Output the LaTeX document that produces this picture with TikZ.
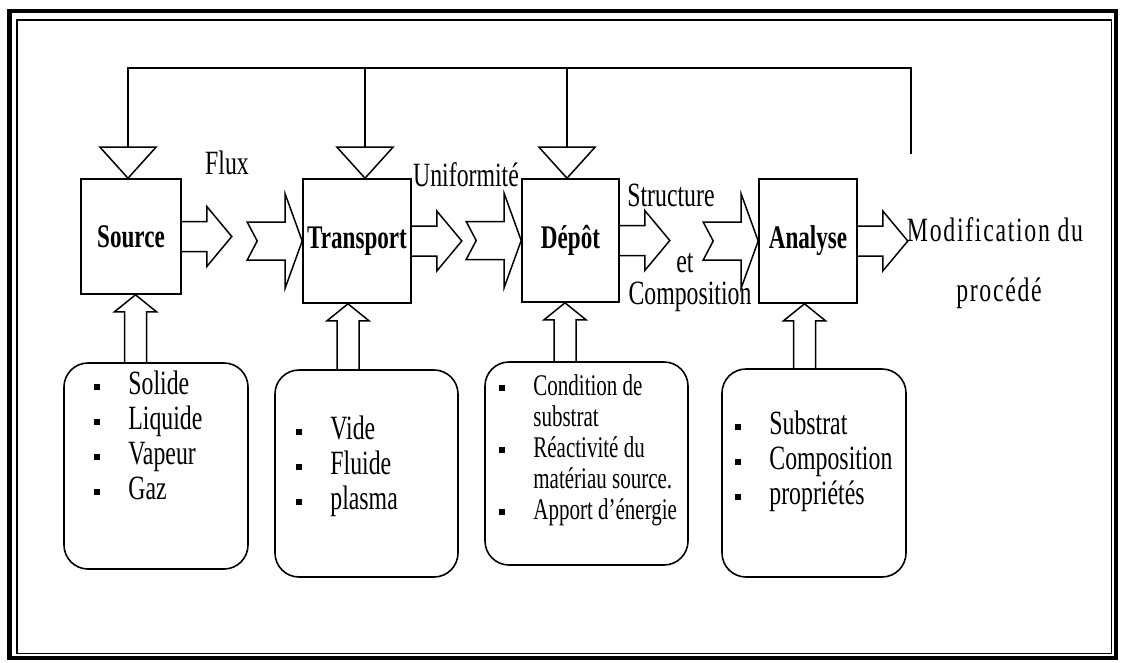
\documentclass[tikz,border=0pt]{standalone}
\usepackage{fontspec}
\setmainfont{Liberation Serif}[FakeStretch=0.7]
\usetikzlibrary{calc,positioning}

\newcommand{\blt}{\makebox[34pt][l]{\rule[4pt]{6pt}{6pt}}\strut}
\newcommand{\cnt}{\hspace*{34pt}\strut}

% fleche pleine qui sort d'une boite
\newcommand{\outarrow}[1]{%
  \draw[fat] ($(#1.east)+(0,-15)$) -- ++(25,0) -- ++(0,-15) -- ($(#1.east)+(50,0)$)
    -- ($(#1.east)+(25,30)$) -- ++(0,-15) -- ($(#1.east)+(0,15)$);}
% fleche a queue entaillee qui entre dans une boite
\newcommand{\inarrow}[1]{%
  \draw[fat] (#1.west) -- ++(-17,-47) -- ++(0,28) -- ++(-38,0) -- ++(10,19)
    -- ++(-10,19) -- ++(38,0) -- ++(0,28) -- cycle;}
% triangle de retour au dessus d'une boite
\newcommand{\feedin}[1]{%
  \draw[fat] (#1) -- ++(-28,-31) -- ++(56,0) -- cycle;}
% fleche montante entre la liste et la boite
\newcommand{\uparr}[2]{%
  \draw[fat] ($(#1 |- #2.north)+(-11,0)$) -- ($(#1)+(-11,17)$) -- ++(-10,0) -- (#1)
    -- ($(#1)+(21,17)$) -- ++(-10,0) -- ($(#1 |- #2.north)+(11,0)$);}

\tikzset{
  fat/.style={line width=1.5pt, line join=miter},
  fb/.style={line width=1.6pt},
  procbox/.style={draw, line width=1.6pt, inner sep=0pt,
    font=\fontsize{33}{35}\selectfont\bfseries},
  listbox/.style={draw, line width=1.6pt, rounded corners=24pt, inner sep=0pt},
  listtext/.style={anchor=north west, inner sep=0pt, align=left,
    font=\fontsize{34}{35}\selectfont},
  lbl/.style={inner sep=0pt, font=\fontsize{34}{35}\selectfont},
  spaced/.style={font=\fontsize{34}{35}\selectfont\addfontfeature{LetterSpace=5}},
}

\begin{document}
\begin{tikzpicture}[x=1pt,y=-1pt]
\useasboundingbox (0,0) rectangle (1122,662);

%%%%%%%%%%% cadre
\draw[line width=4.5pt] (9.5,11) rectangle (1116,658);
\draw[line width=1.2pt] (17,20) rectangle (1111.5,653.5);

%%%%%%%%%%% les quatre etapes
\node[procbox, minimum width=100pt, minimum height=115pt] (source) at (131,236.5) {Source};
\node[procbox, minimum width=108pt, minimum height=124pt] (transport) at (357,241) {Transport};
\node[procbox, minimum width=97pt, minimum height=123pt] (depot) at (570.5,240.5) {Dépôt};
\node[procbox, minimum width=98pt, minimum height=124pt] (analyse) at (808,241) {Analyse};

% ---------------    fleches horizontales
\outarrow{source}
\inarrow{transport}
\outarrow{transport}
\inarrow{depot}
\outarrow{depot}
\inarrow{analyse}
\outarrow{analyse}

\node[lbl] (flux) at (227,163) {Flux};
\node[lbl] (unif) at (466,175) {Uniformité};
\node[lbl] (struct) at (671,195) {Structure};
\node[lbl] (et) at (685,263) {et};
\node[lbl] (compo) at (690,297) {Composition};
\node[lbl, spaced] (modif) at (995,230) {Modification du};
\node[lbl, spaced] (proc) at (999,293) {procédé};

% ---------------    boucle de retour
\coordinate (srctop) at ([xshift=-3pt]source.north);
\coordinate (trtop) at ([xshift=8pt]transport.north);
\coordinate (deptop) at ([xshift=-3.5pt]depot.north);
\coordinate (fbR) at (911,68);
\feedin{srctop}
\feedin{trtop}
\feedin{deptop}
\draw[fb] ($(srctop)+(0,-31)$) |- (fbR) -- ++(0,86);
\draw[fb] ($(trtop)+(0,-31)$) -- (trtop |- fbR);
\draw[fb] ($(deptop)+(0,-31)$) -- (deptop |- fbR);

%%%%%%%%%%% les listes
\node[listbox, minimum width=184pt, minimum height=206pt] (srclist) at (156,466) {};
\node[listbox, minimum width=183pt, minimum height=207pt] (trlist) at (366.5,473.5) {};
\node[listbox, minimum width=203pt, minimum height=203pt] (deplist) at (586.5,463.5) {};
\node[listbox, minimum width=184pt, minimum height=208pt] (anlist) at (814,473) {};

\node[listtext] (srcitems) at ([shift={(31,7.5)}]srclist.north west)
  {\blt Solide\\ \blt Liquide\\ \blt Vapeur\\ \blt Gaz};
\node[listtext] (tritems) at ([shift={(22,45.5)}]trlist.north west)
  {\blt Vide\\ \blt Fluide\\ \blt plasma};
\node[listtext, font=\fontsize{30}{31}\selectfont] (depitems) at ([shift={(15,12)}]deplist.north west)
  {\blt Condition de\\ \cnt substrat\\ \blt Réactivité du\\ \cnt matériau source.\\ \blt Apport d'énergie};
\node[listtext] (anitems) at ([shift={(14,41.5)}]anlist.north west)
  {\blt Substrat\\ \blt Composition\\ \blt propriétés};

% ---------------    fleches montantes
\coordinate (srcbot) at ([xshift=4.5pt]source.south);
\coordinate (trbot) at ([xshift=-9pt]transport.south);
\coordinate (depbot) at ([xshift=-5.5pt]depot.south);
\coordinate (anbot) at ([xshift=-3.5pt]analyse.south);
\uparr{srcbot}{srclist}
\uparr{trbot}{trlist}
\uparr{depbot}{deplist}
\uparr{anbot}{anlist}
\end{tikzpicture}
\end{document}
